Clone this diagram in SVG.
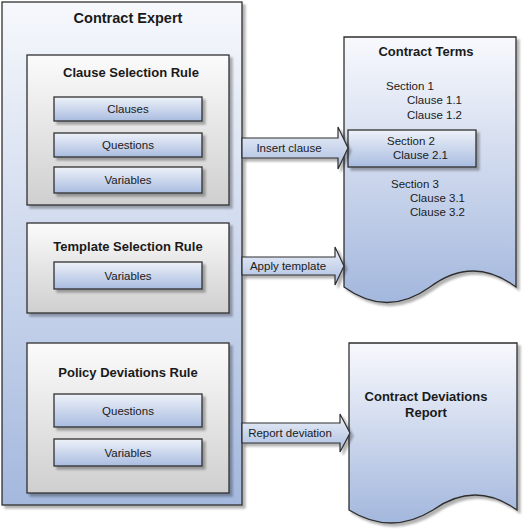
<svg xmlns="http://www.w3.org/2000/svg" width="526" height="531" viewBox="0 0 526 531">
<defs>
<linearGradient id="gOuter" x1="0" y1="0" x2="0" y2="1">
<stop offset="0" stop-color="#f6f8fc"/>
<stop offset="1" stop-color="#a4b8de"/>
</linearGradient>
<linearGradient id="gRule" x1="0" y1="0" x2="0" y2="1">
<stop offset="0" stop-color="#fbfbfb"/>
<stop offset="1" stop-color="#cfcfcf"/>
</linearGradient>
<linearGradient id="gItem" x1="0" y1="0" x2="0" y2="1">
<stop offset="0" stop-color="#eef2f9"/>
<stop offset="1" stop-color="#a9bce0"/>
</linearGradient>
<linearGradient id="gDoc" x1="0" y1="0" x2="0" y2="1">
<stop offset="0" stop-color="#f8f9fd"/>
<stop offset="1" stop-color="#a3b7dd"/>
</linearGradient>
<filter id="sh" x="-10%" y="-10%" width="130%" height="130%">
<feGaussianBlur in="SourceAlpha" stdDeviation="1.2"/>
<feOffset dx="3" dy="3" result="b"/>
<feFlood flood-color="#000" flood-opacity="0.3"/>
<feComposite in2="b" operator="in"/>
<feMerge><feMergeNode/><feMergeNode in="SourceGraphic"/></feMerge>
</filter>
</defs>
<style>
.outer{fill:url(#gOuter);stroke:#2e2e2e;stroke-width:1.3}
.rule{fill:url(#gRule);stroke:#2e2e2e;stroke-width:1.3}
.item{fill:url(#gItem);stroke:#2e2e2e;stroke-width:1.3}
.doc{fill:url(#gDoc);stroke:#2e2e2e;stroke-width:1.3}
.arrow{fill:url(#gItem);stroke:#2e2e2e;stroke-width:1.2}
text{font-family:"Liberation Sans",Arial,sans-serif;fill:#1a1a1a}
.t1{font-size:14.5px;font-weight:bold;text-anchor:middle}
.t2{font-size:13px;font-weight:bold;text-anchor:middle}
.lbl{font-size:11.5px;text-anchor:middle}
.sec{font-size:11.5px}
</style>
<g id="contract-expert">
<rect class="outer" x="2" y="2" width="240" height="503" filter="url(#sh)"/>
<text class="t1" x="128" y="23">Contract Expert</text>
</g>
<g id="clause-selection-rule">
<rect class="rule" x="27" y="55" width="202" height="150" filter="url(#sh)"/>
<text class="t2" x="131" y="77">Clause Selection Rule</text>
<g id="csr-clauses"><rect class="item" x="54" y="97" width="148" height="24" filter="url(#sh)"/><text class="lbl" x="128" y="113">Clauses</text></g>
<g id="csr-questions"><rect class="item" x="54" y="133" width="148" height="24" filter="url(#sh)"/><text class="lbl" x="128" y="149">Questions</text></g>
<g id="csr-variables"><rect class="item" x="54" y="167" width="148" height="26" filter="url(#sh)"/><text class="lbl" x="128" y="184">Variables</text></g>
</g>
<g id="template-selection-rule">
<rect class="rule" x="27" y="223" width="202" height="90" filter="url(#sh)"/>
<text class="t2" x="128" y="251">Template Selection Rule</text>
<g id="tsr-variables"><rect class="item" x="54" y="262" width="148" height="27" filter="url(#sh)"/><text class="lbl" x="128" y="280">Variables</text></g>
</g>
<g id="policy-deviations-rule">
<rect class="rule" x="27" y="343" width="202" height="150" filter="url(#sh)"/>
<text class="t2" x="128" y="377">Policy Deviations Rule</text>
<g id="pdr-questions"><rect class="item" x="54" y="394" width="148" height="33" filter="url(#sh)"/><text class="lbl" x="128" y="415">Questions</text></g>
<g id="pdr-variables"><rect class="item" x="54" y="439" width="148" height="27" filter="url(#sh)"/><text class="lbl" x="128" y="457">Variables</text></g>
</g>
<g id="contract-terms">
<path class="doc" d="M344,37 H516 V287 Q473,255 430,287 Q387,318 344,287 Z" filter="url(#sh)"/>
<text class="t2" x="426" y="56">Contract Terms</text>
<text class="sec" x="386" y="90">Section 1</text>
<text class="sec" x="407" y="104">Clause 1.1</text>
<text class="sec" x="407" y="119">Clause 1.2</text>
<g id="section-2">
<rect class="item" x="348" y="130" width="128" height="37" filter="url(#sh)"/>
<text class="sec" x="387" y="145">Section 2</text>
<text class="sec" x="393" y="159">Clause 2.1</text>
</g>
<text class="sec" x="391" y="188">Section 3</text>
<text class="sec" x="410" y="202">Clause 3.1</text>
<text class="sec" x="410" y="216">Clause 3.2</text>
</g>
<g id="contract-deviations-report">
<path class="doc" d="M349,343 H517 V510 Q475,480 433,510 Q391,536 349,510 Z" filter="url(#sh)"/>
<text class="t2" x="426" y="401">Contract Deviations</text>
<text class="t2" x="426" y="417">Report</text>
</g>
<g id="connectors">
<g id="insert-clause">
<path class="arrow" d="M242,138 H338 V127 L348,148 L338,169 V158 H242 Z" filter="url(#sh)"/>
<text class="lbl" x="289" y="152">Insert clause</text>
</g>
<g id="apply-template">
<path class="arrow" d="M242,257 H335 V247 L344,266 L335,285 V275 H242 Z" filter="url(#sh)"/>
<text class="lbl" x="288" y="270">Apply template</text>
</g>
<g id="report-deviation">
<path class="arrow" d="M242,423 H340 V414 L350,433 L340,452 V443 H242 Z" filter="url(#sh)"/>
<text class="lbl" x="290" y="437">Report deviation</text>
</g>
</g>
</svg>
